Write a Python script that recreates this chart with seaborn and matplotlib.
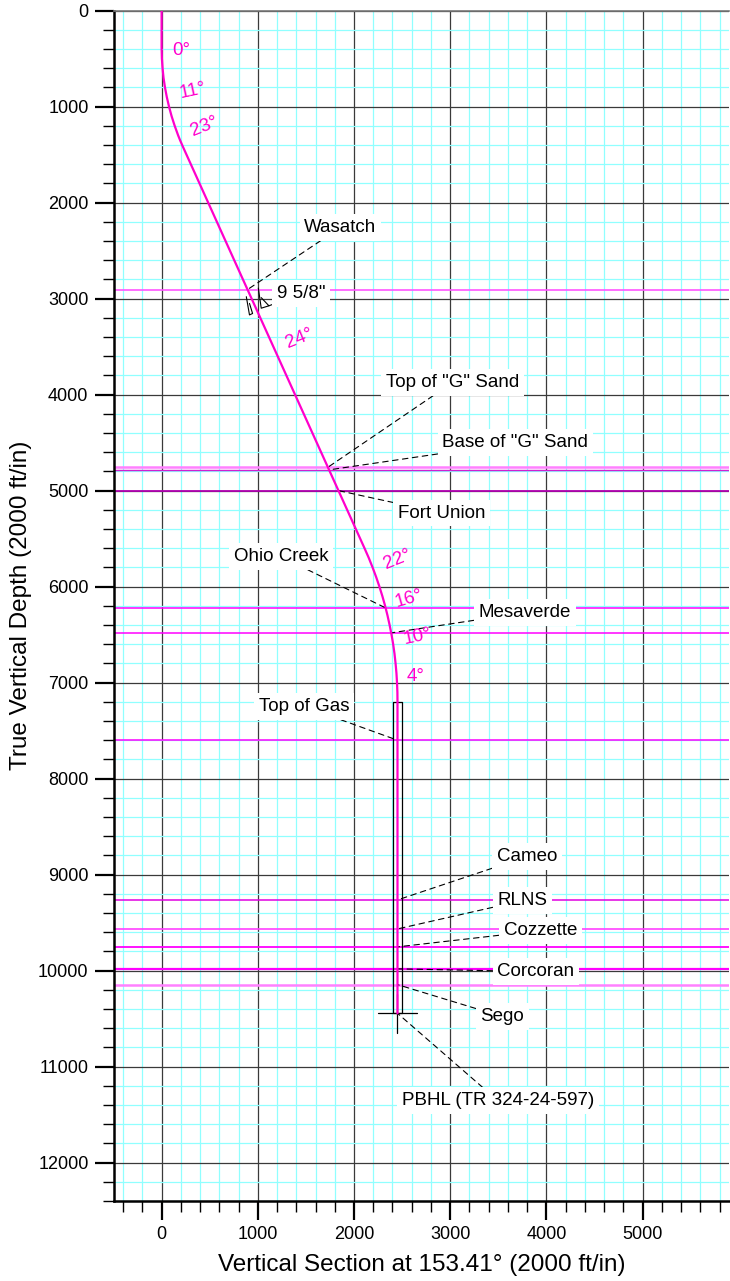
import numpy as np
import pandas as pd
import matplotlib
matplotlib.use("Agg")
import matplotlib.pyplot as plt
from matplotlib.ticker import MultipleLocator
import seaborn as sns

well_tvd = [0, 380, 500, 600, 700, 800, 900, 1000, 1100, 1200, 1300, 1350, 1417,
            5602, 5700, 5800, 5900, 6000, 6100, 6200, 6300, 6400, 6500, 6600,
            6700, 6800, 6900, 7000, 7100, 7190, 10445]
well_vs = [0, 0, 3, 10, 20, 35, 54, 77, 104, 136, 172, 192, 221,
           2110, 2153, 2193, 2230, 2264, 2295, 2323, 2348, 2370, 2390, 2407,
           2421, 2432, 2441, 2447, 2451, 2452, 2452]

# inclination callouts
inc_text = ["0°", "11°", "23°", "24°", "22°", "16°", "10°", "4°"]
inc_x = [205, 320, 450, 1432, 2450, 2575, 2663, 2642]
inc_y = [417, 833, 1208, 3417, 5719, 6125, 6521, 6938]
inc_rot = [0, 12, 22, 22, 22, 16, 12, 0]

# formation tops (TVD)
form_names = ["Wasatch", 'Top of "G" Sand', 'Base of "G" Sand', "Fort Union",
              "Ohio Creek", "Mesaverde", "Top of Gas", "Cameo", "RLNS",
              "Cozzette", "Corcoran", "Sego"]
form_tvd = [2906, 4757, 4784, 5000, 6222, 6482, 7600, 9264, 9566, 9753, 9982, 10146]
form_color = ["#ff55ff", "#ff80ff", "#d020d0", "#b000b0", "#ff00ff", "#ff00ff",
              "#ff00ff", "#e000e0", "#ff40ff", "#ff00ff", "#ff00ff", "#ff80ff"]
form_lw = [1.2, 1.8, 1.0, 1.3, 1.1, 1.1, 1.1, 1.1, 1.2, 1.3, 1.6, 1.8]
form_lab_x = [1858, 3023, 3676, 2913, 1240, 3775, 1484, 3797, 3750, 3936, 3890, 3541]
form_lab_y = [2260, 3875, 4500, 5234, 5688, 6271, 7250, 8813, 9271, 9583, 10010, 10479]

# casing / liner / target
casing_name = '9 5/8"'
casing_tvd = 3000
liner_top = 7200
pbhl_name = "PBHL (TR 324-24-597)"
pbhl_tvd = 10445
pbhl_vs = 2452

well_color = "#ff00cc"

sns.set_style("white")
plt.rcParams["font.family"] = ["Liberation Sans", "DejaVu Sans"]
plt.rcParams["text.color"] = "black"
plt.rcParams["axes.labelcolor"] = "black"
plt.rcParams["xtick.color"] = "black"
plt.rcParams["ytick.color"] = "black"

fig = plt.figure(figsize=(7.3, 12.81), dpi=100)
ax = fig.add_axes([113.5 / 730, 80 / 1281, 615.7 / 730, 1190.4 / 1281])

ax.set_xlim(-500, 5900)
ax.set_ylim(12400, 0)

ax.xaxis.set_major_locator(MultipleLocator(1000))
ax.xaxis.set_minor_locator(MultipleLocator(200))
ax.yaxis.set_major_locator(MultipleLocator(1000))
ax.yaxis.set_minor_locator(MultipleLocator(200))
ax.set_axisbelow(True)
ax.grid(which="minor", color="#90ffff", lw=0.9)
ax.grid(which="major", color="#3a3a3a", lw=0.9)

ax.tick_params(which="major", direction="out", length=14, width=1.6,
               labelsize=13, pad=4, colors="black")
ax.tick_params(which="minor", direction="out", length=8, width=1.0, colors="black")
ax.tick_params(top=False, right=False, bottom=True, left=True, which="both")

for side in ["left", "bottom"]:
    ax.spines[side].set_color("black")
    ax.spines[side].set_linewidth(1.8)
ax.spines["top"].set_color("#777777")
ax.spines["top"].set_linewidth(1.2)
ax.spines["right"].set_visible(False)

# formation lines
for t, c, w in zip(form_tvd, form_color, form_lw):
    ax.axhline(t, color=c, lw=w, zorder=2)

# well path
df = pd.DataFrame({"vs": well_vs, "tvd": well_tvd})
sns.lineplot(data=df, x="vs", y="tvd", sort=False, estimator=None,
             color=well_color, lw=1.6, ax=ax, zorder=6)

# liner box and target cross
box_half = 44
ax.plot([pbhl_vs - box_half, pbhl_vs - box_half, pbhl_vs + box_half,
         pbhl_vs + box_half, pbhl_vs - box_half],
        [liner_top, pbhl_tvd, pbhl_tvd, liner_top, liner_top],
        color="black", lw=0.9, zorder=5)
cross = 200
ax.plot([pbhl_vs - cross, pbhl_vs + cross], [pbhl_tvd, pbhl_tvd], color="black", lw=0.9, zorder=5)
ax.plot([pbhl_vs, pbhl_vs], [pbhl_tvd - cross, pbhl_tvd + cross], color="black", lw=0.9, zorder=5)

# casing shoe symbol
cvs = np.interp(casing_tvd, well_tvd, well_vs)
ax.plot([cvs - 55, cvs - 22, cvs - 22, cvs + 10, cvs - 22],
        [casing_tvd - 20, casing_tvd + 170, casing_tvd + 170, casing_tvd + 155, casing_tvd + 50],
        color="black", lw=0.8, zorder=5)
ax.plot([cvs + 70, cvs + 100, cvs + 100, cvs + 180, cvs + 100],
        [casing_tvd - 110, casing_tvd + 100, casing_tvd + 100, casing_tvd + 75, casing_tvd - 10],
        color="black", lw=0.8, zorder=5)

box = dict(boxstyle="square,pad=0.25", fc="white", ec="none")
leader = dict(arrowstyle="-", color="black", lw=0.8, linestyle=(0, (5, 4)),
              shrinkA=0, shrinkB=0)

for name, t, lx, ly in zip(form_names, form_tvd, form_lab_x, form_lab_y):
    wx = np.interp(t, well_tvd, well_vs)
    ax.annotate(name, xy=(wx, t), xytext=(lx, ly), fontsize=13.5,
                ha="center", va="center", bbox=box, arrowprops=leader, zorder=4)

ax.annotate(casing_name, xy=(cvs + 180, casing_tvd + 75), xytext=(1452, 2948),
            fontsize=13.5, ha="center", va="center", bbox=box,
            arrowprops=leader, zorder=4)
ax.annotate(pbhl_name, xy=(pbhl_vs, pbhl_tvd), xytext=(3495, 11354),
            fontsize=13.5, ha="center", va="center", bbox=box,
            arrowprops=leader, zorder=4)

for s, x, y, r in zip(inc_text, inc_x, inc_y, inc_rot):
    ax.text(x, y, s, color=well_color, fontsize=13.5, rotation=r,
            ha="center", va="center", zorder=7)

ax.set_xlabel("Vertical Section at 153.41° (2000 ft/in)", fontsize=17.5, labelpad=8)
ax.set_ylabel("True Vertical Depth (2000 ft/in)", fontsize=17.5, labelpad=4)

fig.savefig("out.png", dpi=100)
